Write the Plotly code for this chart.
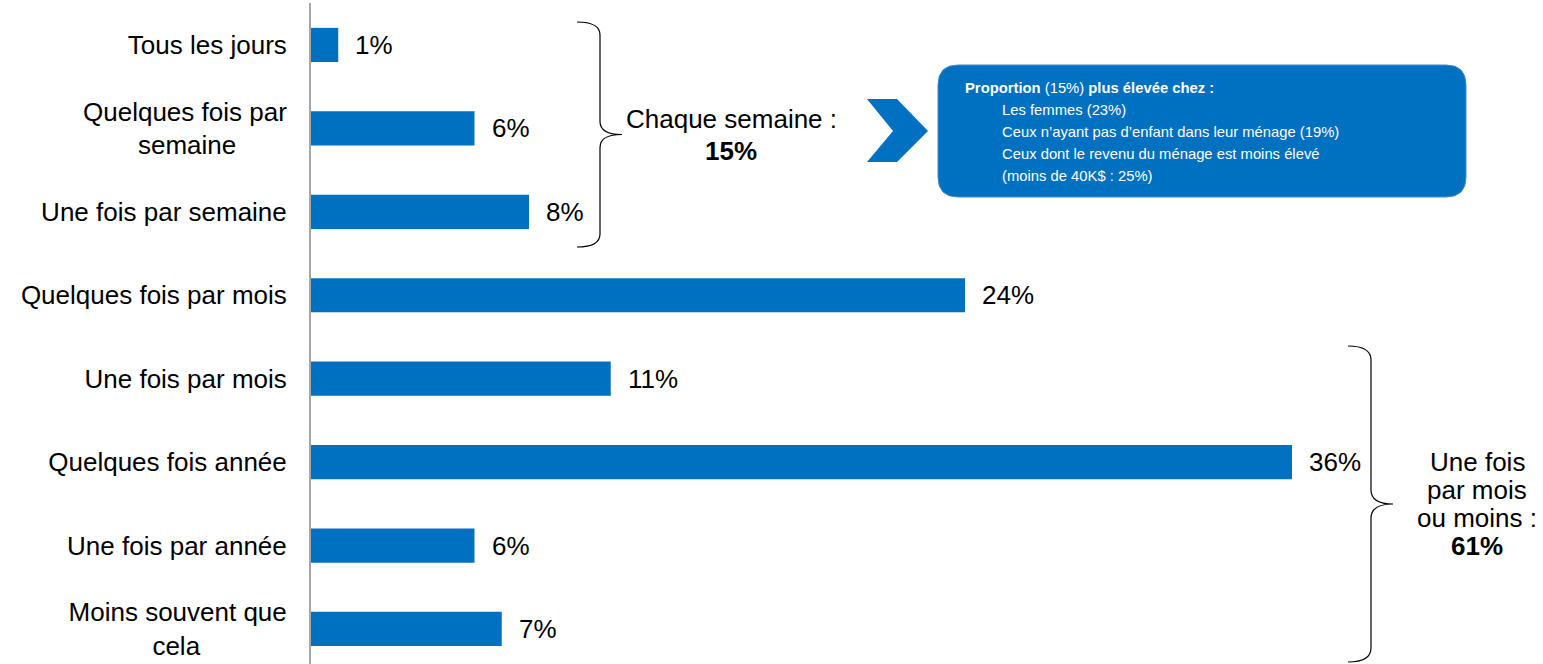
import plotly.graph_objects as go

NBSP = "\u00a0"

# Frequency categories (top to bottom) and their shares in percent
categories = [
    "Tous les jours",
    "Quelques fois par<br>semaine",
    "Une fois par semaine",
    "Quelques fois par mois",
    "Une fois par mois",
    "Quelques fois année",
    "Une fois par année",
    "Moins souvent que<br>cela",
]
values = [1, 6, 8, 24, 11, 36, 6, 7]

# trailing padding so the second line of wrapped labels sits centred under the first
tick_labels = [
    "Tous les jours",
    "Quelques fois par<br>semaine" + NBSP * 7,
    "Une fois par semaine",
    "Quelques fois par mois",
    "Une fois par mois",
    "Quelques fois année",
    "Une fois par année",
    "Moins souvent que<br>cela" + NBSP * 12,
]

weekly_label = ["Chaque semaine :", "<b>15%</b>"]
monthly_label = ["Une fois", "par mois", "ou moins :", "<b>61%</b>"]
profile_lines = [
    "<b>Proportion</b> (15%) <b>plus élevée chez :</b>",
    "Les femmes (23%)",
    "Ceux n’ayant pas d’enfant dans leur ménage (19%)",
    "Ceux dont le revenu du ménage est moins élevé",
    "(moins de 40K$ : 25%)",
]

W, H = 1543, 664
BLUE = "#0070C0"
FONT = "Liberation Sans, Arial, sans-serif"


def px(x):
    return x / W


def py(y):
    return 1 - y / H


def path(points, close=False):
    s = "M " + " L ".join(f"{px(x):.5f},{py(y):.5f}" for x, y in points)
    return s + (" Z" if close else "")


def brace(x_end, x_spine, x_tip, y_top, y_bot, r=13):
    ym = (y_top + y_bot) / 2
    P = lambda x, y: f"{px(x):.5f},{py(y):.5f}"
    return (
        f"M {P(x_end, y_top)} Q {P(x_spine, y_top)} {P(x_spine, y_top + r)} "
        f"L {P(x_spine, ym - r)} Q {P(x_spine, ym)} {P(x_tip, ym)} "
        f"Q {P(x_spine, ym)} {P(x_spine, ym + r)} "
        f"L {P(x_spine, y_bot - r)} Q {P(x_spine, y_bot)} {P(x_end, y_bot)}"
    )


def rounded_box(x0, y0, x1, y1, r):
    P = lambda x, y: f"{px(x):.5f},{py(y):.5f}"
    return (
        f"M {P(x0 + r, y0)} L {P(x1 - r, y0)} Q {P(x1, y0)} {P(x1, y0 + r)} "
        f"L {P(x1, y1 - r)} Q {P(x1, y1)} {P(x1 - r, y1)} "
        f"L {P(x0 + r, y1)} Q {P(x0, y1)} {P(x0, y1 - r)} "
        f"L {P(x0, y0 + r)} Q {P(x0, y0)} {P(x0 + r, y0)} Z"
    )


fig = go.Figure(
    go.Bar(
        x=values,
        y=categories,
        orientation="h",
        width=0.41,
        marker=dict(color=BLUE, line=dict(width=0)),
        hoverinfo="skip",
    )
)

annotations = []
# value labels next to each bar
for cat, v in zip(categories, values):
    annotations.append(dict(
        x=v, y=cat, xref="x", yref="y", text=f"{v}%", showarrow=False,
        xanchor="left", yanchor="middle", xshift=15,
        font=dict(family=FONT, size=26, color="black"),
    ))

# group summaries beside the braces
for text, y in zip(weekly_label, [119, 151]):
    annotations.append(dict(
        x=px(731), y=py(y), xref="paper", yref="paper", text=text,
        showarrow=False, xanchor="center", yanchor="middle",
        font=dict(family=FONT, size=26, color="black"),
    ))
for text, y in zip(monthly_label, [462, 490, 518, 546]):
    annotations.append(dict(
        x=px(1477), y=py(y), xref="paper", yref="paper", text=text,
        showarrow=False, xanchor="center", yanchor="middle",
        font=dict(family=FONT, size=26, color="black"),
    ))

# profile call-out box text
for i, (text, y) in enumerate(zip(profile_lines, [88, 110, 132, 154, 176])):
    annotations.append(dict(
        x=px(963 if i == 0 else 1000), y=py(y), xref="paper", yref="paper",
        text=text, showarrow=False, xanchor="left", yanchor="middle",
        font=dict(family=FONT, size=14.8, color="white"),
    ))

shapes = [
    dict(type="path", xref="paper", yref="paper",
         path=brace(577, 600, 622, 22, 247),
         line=dict(color="black", width=1.2)),
    dict(type="path", xref="paper", yref="paper",
         path=brace(1348, 1371, 1393, 346, 662, r=14),
         line=dict(color="black", width=1.2)),
    dict(type="path", xref="paper", yref="paper",
         path=path([(867, 99), (897, 99), (928, 131), (897, 162),
                    (867, 162), (893, 131)], close=True),
         fillcolor=BLUE, line=dict(width=0)),
    dict(type="path", xref="paper", yref="paper",
         path=rounded_box(938, 65, 1466, 197, 20),
         fillcolor=BLUE, line=dict(color="#3f8ccd", width=1)),
]

fig.update_layout(
    width=W, height=H,
    margin=dict(l=0, r=0, t=0, b=0),
    paper_bgcolor="white", plot_bgcolor="white",
    showlegend=False,
    annotations=annotations,
    shapes=shapes,
    xaxis=dict(domain=[px(311), 1], range=[0, 1232 / 27.25],
               visible=False, fixedrange=True),
    yaxis=dict(domain=[0, 661 / H], range=[7.42, -0.503],
               tickmode="array", tickvals=categories, ticktext=tick_labels,
               showline=True, linecolor="#A6A6A6", linewidth=2,
               showgrid=False, zeroline=False,
               ticks="outside", ticklen=17, tickcolor="rgba(0,0,0,0)",
               tickfont=dict(family=FONT, size=26, color="black"),
               fixedrange=True),
)

fig.write_html("out.html")
